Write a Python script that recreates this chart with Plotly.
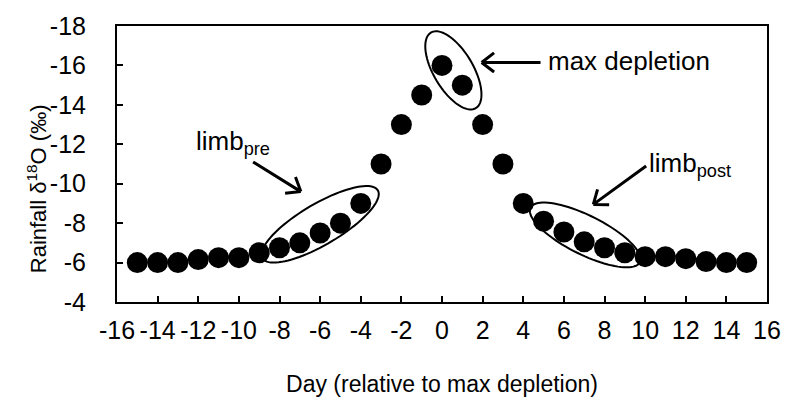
import numpy as np
import plotly.graph_objects as go

# Daily rainfall d18O composite, centred on the day of maximum depletion
days = list(range(-15, 16))
d18o = [-6.0, -6.0, -6.0, -6.15, -6.25, -6.25, -6.5, -6.75, -7.0, -7.5, -8.0, -9.0,
        -11.0, -13.0, -14.5, -16.0, -15.0, -13.0, -11.0, -9.0, -8.1, -7.55, -7.05,
        -6.75, -6.5, -6.3, -6.3, -6.2, -6.05, -6.0, -6.0]

x_ticks = list(range(-16, 17, 2))
y_ticks = list(range(-18, -3, 2))

X_RANGE = [-16, 16]
Y_RANGE = [-4, -18]

W, H = 793, 405
M = dict(l=117, r=19, t=18, b=103)
px_x = (W - M["l"] - M["r"]) / (X_RANGE[1] - X_RANGE[0])
px_y = (H - M["t"] - M["b"]) / (Y_RANGE[0] - Y_RANGE[1])

FONT = "Liberation Sans, Arial, sans-serif"


def to_screen(x, y):
    # screen units: x to the right, y downward (the y axis is reversed,
    # so larger values sit lower on screen)
    return x * px_x, y * px_y


def from_screen(sx, sy):
    return sx / px_x, sy / px_y


def ellipse_path(cx, cy, a_px, b_px, angle_deg, n=90):
    """Rotated ellipse sized in pixels (angle clockwise on screen), as an SVG path."""
    t = np.linspace(0, 2 * np.pi, n)
    th = np.radians(angle_deg)
    ex = a_px * np.cos(t)
    ey = b_px * np.sin(t)
    rx = ex * np.cos(th) - ey * np.sin(th)
    ry = ex * np.sin(th) + ey * np.cos(th)
    scx, scy = to_screen(cx, cy)
    xs, ys = from_screen(scx + rx, scy + ry)
    pts = [f"{x:.4f},{y:.4f}" for x, y in zip(xs, ys)]
    return "M" + " L".join(pts) + " Z"


def arrow_path(x0, y0, x1, y1, barb=16, spread=38):
    """Line from (x0,y0) to (x1,y1) with an open V head at the end."""
    sx0, sy0 = to_screen(x0, y0)
    sx1, sy1 = to_screen(x1, y1)
    ang = np.arctan2(sy1 - sy0, sx1 - sx0)
    segs = [f"M{x0:.4f},{y0:.4f} L{x1:.4f},{y1:.4f}"]
    for s in (1, -1):
        a = ang + np.pi + s * np.radians(spread)
        bx, by = from_screen(sx1 + barb * np.cos(a), sy1 + barb * np.sin(a))
        segs.append(f"M{bx:.4f},{by:.4f} L{x1:.4f},{y1:.4f}")
    return " ".join(segs)


fig = go.Figure()
fig.add_trace(go.Scatter(
    x=days, y=d18o, mode="markers",
    marker=dict(color="black", size=21, line=dict(width=0)),
    showlegend=False, hoverinfo="skip",
))

shapes = []
# groupings around the two limbs and the peak
for cx, cy, a, b, ang in [(-6.0, -7.94, 68, 21, -31),
                          (0.56, -15.75, 45, 20, 60),
                          (7.05, -7.4, 62, 20, 27)]:
    shapes.append(dict(type="path", path=ellipse_path(cx, cy, a, b, ang),
                       line=dict(color="black", width=2), layer="above"))

for x0, y0, x1, y1 in [(4.85, -16.15, 1.95, -16.15),
                       (-9.3, -11.1, -6.95, -9.6),
                       (10.05, -10.9, 7.45, -8.95)]:
    shapes.append(dict(type="path", path=arrow_path(x0, y0, x1, y1),
                       line=dict(color="black", width=3), layer="above"))

ANN_FONT = dict(family=FONT, size=26, color="black")
annotations = [
    dict(x=5.1, y=-16.2, text="max depletion", showarrow=False, xanchor="left",
         yanchor="middle", font=ANN_FONT),
    dict(x=-12.2, y=-12.1, text="limb<sub>pre</sub>", showarrow=False, xanchor="left",
         yanchor="middle", font=ANN_FONT),
    dict(x=10.1, y=-11.0, text="limb<sub>post</sub>", showarrow=False, xanchor="left",
         yanchor="middle", font=ANN_FONT),
    # y-axis title
    dict(x=-0.124, y=0.41, xref="paper", yref="paper", showarrow=False,
         text="Rainfall δ<sup>18</sup>O (‰)", textangle=-90,
         xanchor="center", yanchor="middle",
         font=dict(family=FONT, size=22, color="black")),
]

fig.update_layout(
    width=W, height=H, margin=M,
    paper_bgcolor="white", plot_bgcolor="white",
    font=dict(family=FONT, size=25, color="black"),
    shapes=shapes, annotations=annotations,
    xaxis=dict(
        range=X_RANGE, tickmode="array", tickvals=x_ticks,
        ticktext=[str(v) for v in x_ticks],
        ticks="inside", ticklen=6, tickwidth=1.5, tickcolor="black",
        tickfont=dict(size=25),
        showline=True, linecolor="black", linewidth=2, mirror=True,
        showgrid=False, zeroline=False, ticklabelstandoff=5,
        title=dict(text="Day (relative to max depletion)", standoff=33,
                   font=dict(size=23)),
    ),
    yaxis=dict(
        range=Y_RANGE, tickmode="array", tickvals=y_ticks,
        ticktext=[str(v) for v in y_ticks],
        ticks="inside", ticklen=6, tickwidth=1.5, tickcolor="black",
        tickfont=dict(size=25),
        showline=True, linecolor="black", linewidth=2, mirror=True,
        showgrid=False, zeroline=False, ticklabelstandoff=24,
    ),
)

fig.write_html("out.html")
